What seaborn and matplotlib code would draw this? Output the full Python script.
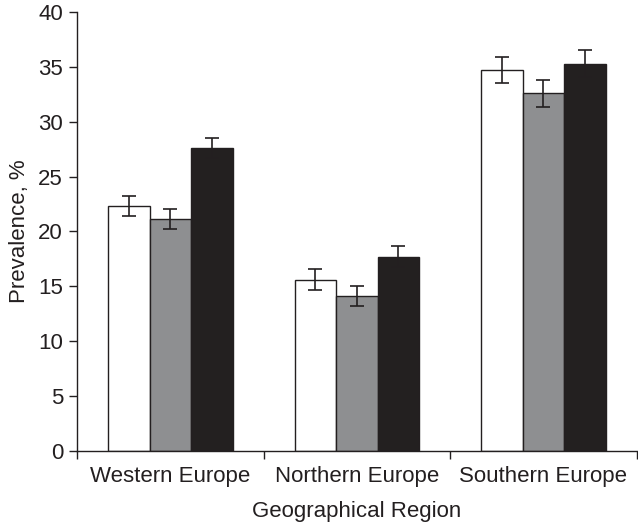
import numpy as np
import pandas as pd
import seaborn as sns
import matplotlib.pyplot as plt
from matplotlib.ticker import FixedLocator

# data
regions = ["Western Europe", "Northern Europe", "Southern Europe"]
series = ["A", "B", "C"]
values_a = [22.3, 15.6, 34.7]
values_b = [21.1, 14.1, 32.6]
values_c = [27.6, 17.7, 35.3]
errors_a = [0.9, 1.0, 1.2]
errors_b = [0.9, 0.9, 1.25]
errors_c = [0.95, 1.0, 1.2]

df = pd.DataFrame({
    "Region": regions * 3,
    "Series": [s for s in series for _ in regions],
    "Prevalence": values_a + values_b + values_c,
    "Error": errors_a + errors_b + errors_c,
})

sns.set_style("ticks")
plt.rcParams['font.family'] = ['Liberation Sans', 'DejaVu Sans']
ink = "#231f20"
colors = ["#ffffff", "#8e8f91", ink]
fs = 16

fig = plt.figure(figsize=(6.38, 5.26), dpi=100)
ax = fig.add_axes([0.1207, 0.1435, 0.8773, 0.8335])

sns.barplot(data=df, x="Region", y="Prevalence", hue="Series", palette=colors,
            width=0.667, edgecolor=ink, linewidth=1.0, errorbar=None,
            legend=False, ax=ax)

# error bars at bar centres
for container, s in zip(ax.containers, series):
    sub = df[df["Series"] == s]
    xs = [p.get_x() + p.get_width() / 2 for p in container.patches]
    ax.errorbar(xs, sub["Prevalence"], yerr=sub["Error"], fmt="none",
                ecolor=ink, elinewidth=1.2, capsize=5, capthick=1.2, zorder=5)

ax.set_ylim(0, 40)
ax.set_xlim(-0.5, 2.5)
ax.set_yticks(range(0, 41, 5))
ax.xaxis.set_minor_locator(FixedLocator([-0.5, 0.5, 1.5, 2.5]))
ax.tick_params(axis="x", which="major", length=0, pad=11, labelsize=fs, colors=ink)
ax.tick_params(axis="x", which="minor", length=6, width=1, color=ink)
ax.tick_params(axis="y", length=6, width=1, labelsize=fs, colors=ink, pad=4)

ax.set_xlabel("Geographical Region", fontsize=fs, color=ink, labelpad=10)
ax.set_ylabel("Prevalence, %", fontsize=fs, color=ink, labelpad=6)

for side in ["top", "right"]:
    ax.spines[side].set_visible(False)
for side in ["left", "bottom"]:
    ax.spines[side].set_color(ink)
    ax.spines[side].set_linewidth(1.0)

fig.savefig("out.png", dpi=100)
